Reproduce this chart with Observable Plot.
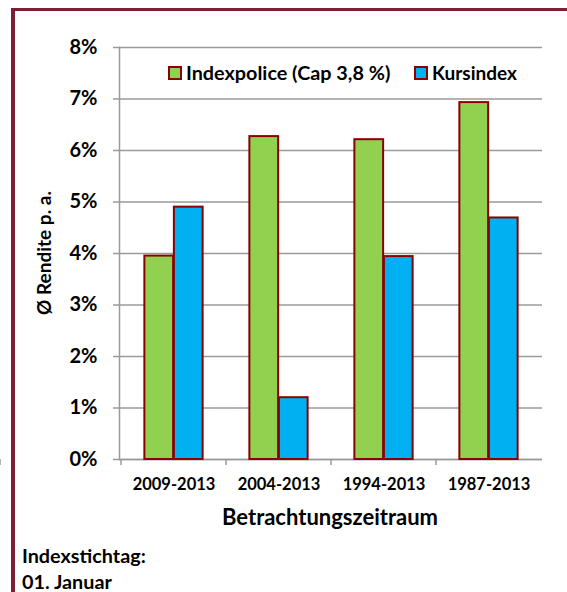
<!DOCTYPE html>
<html><head><meta charset="utf-8">
<script src="https://cdn.jsdelivr.net/npm/d3@7"></script>
<script src="https://cdn.jsdelivr.net/npm/@observablehq/plot@0.6"></script>
<style>
body{margin:0;background:#fff;font-family:Lato,sans-serif;}
#wrap{position:relative;width:567px;height:592px;overflow:hidden;background:#fff;}
#chart{position:absolute;left:0;top:0;}
.border{position:absolute;left:11px;top:8px;width:600px;height:650px;border-left:4px solid #7d1f34;border-top:3px solid #7d1f34;}
.t{position:absolute;font-weight:700;color:#000;white-space:nowrap;line-height:1;}
.sw{position:absolute;width:10px;height:10px;border:2px solid #8b0000;}
#chart svg g[aria-label="y-axis tick label"] text{font-size:20px;font-weight:700;}
#chart svg g[aria-label="x-axis tick label"] text{font-size:16.5px;font-weight:700;}
</style></head>
<body>
<div id="wrap">
  <div class="border"></div>
  <div id="chart"></div>
</div>
<script>
const periods = ["2009-2013", "2004-2013", "1994-2013", "1987-2013"];
const seriesNames = ["Indexpolice (Cap 3,8 %)", "Kursindex"];
const indexpolice = [3.95, 6.27, 6.21, 6.93];
const kursindex = [4.90, 1.20, 3.94, 4.69];
const yTicks = [0, 1, 2, 3, 4, 5, 6, 7, 8];
const colors = ["#92d050", "#00b0f0"];
const xTitle = "Betrachtungszeitraum";
const yTitle = "Ø Rendite p. a.";
const note = ["Indexstichtag:", "01. Januar"];

const W = 567, H = 592, ML = 119, MR = 25, MT = 47, MB = 133;
const bw = (W - ML - MR) / periods.length;
const barW = bw * 0.279;
const outer = (bw - 2 * barW) / 2;

const dataA = periods.map((p, i) => ({period: p, series: seriesNames[0], value: indexpolice[i]}));
const dataB = periods.map((p, i) => ({period: p, series: seriesNames[1], value: kursindex[i]}));

const grid = "#9a9a9a";
const edge = "#8b0000";

const boundaryTicks = (index, scales) => {
  const {x, y} = scales;
  const b = x.bandwidth;
  const xs = periods.map(p => x(p)).concat([x(periods[periods.length - 1]) + b]);
  const g = d3.create("svg:g").attr("stroke", grid).attr("stroke-width", 1.5);
  const y0 = y(0);
  g.selectAll("line").data(xs).join("line")
    .attr("x1", d => d).attr("x2", d => d).attr("y1", y0).attr("y2", y0 + 6);
  return g.node();
};

const chart = Plot.plot({
  width: W, height: H,
  marginLeft: ML, marginRight: MR, marginTop: MT, marginBottom: MB,
  style: {fontFamily: "Lato, sans-serif", color: "#000", background: "transparent"},
  x: {domain: periods, padding: 0, axis: null, label: null},
  y: {domain: [0, 8], axis: null, label: null},
  marks: [
    Plot.gridY(yTicks, {stroke: grid, strokeOpacity: 1, strokeWidth: 1.5}),
    Plot.frame({anchor: "left", stroke: grid, strokeWidth: 1.5}),
    Plot.ruleY([0], {stroke: grid, strokeWidth: 1.5}),
    Plot.axisY(yTicks, {label: null, tickSize: 6, tickPadding: 16, tickFormat: d => d + "%", stroke: grid, strokeWidth: 1.5, fill: "#000"}),
    Plot.axisX({label: null, tickSize: 0, tickPadding: 19, fill: "#000"}),
    boundaryTicks,
    Plot.barY(dataA, {x: "period", y: "value", fill: colors[0], stroke: edge, strokeWidth: 2, insetLeft: outer, insetRight: bw - outer - barW}),
    Plot.barY(dataB, {x: "period", y: "value", fill: colors[1], stroke: edge, strokeWidth: 2, insetLeft: outer + barW, insetRight: outer})
  ]
});
document.getElementById("chart").appendChild(chart);

const wrap = document.getElementById("wrap");
function addText(txt, css) {
  const d = document.createElement("div");
  d.className = "t";
  d.textContent = txt;
  Object.assign(d.style, css);
  wrap.appendChild(d);
  return d;
}
function addSwatch(color, css) {
  const d = document.createElement("div");
  d.className = "sw";
  d.style.background = color;
  Object.assign(d.style, css);
  wrap.appendChild(d);
}
// legend
addSwatch(colors[0], {left: "168px", top: "66px"});
addText(seriesNames[0], {left: "186px", top: "63px", fontSize: "19.8px"});
addSwatch(colors[1], {left: "414px", top: "66px"});
addText(seriesNames[1], {left: "432px", top: "63px", fontSize: "19px"});
// axis titles
addText(xTitle, {left: "330px", top: "506px", fontSize: "22px", transform: "translateX(-50%)"});
addText(yTitle, {left: "43px", top: "253px", fontSize: "19px", transform: "translate(-50%,-50%) rotate(-90deg)"});
// note
addText(note[0], {left: "22px", top: "546px", fontSize: "19.8px"});
addText(note[1], {left: "22px", top: "572px", fontSize: "19.8px"});
</script>
</body></html>
